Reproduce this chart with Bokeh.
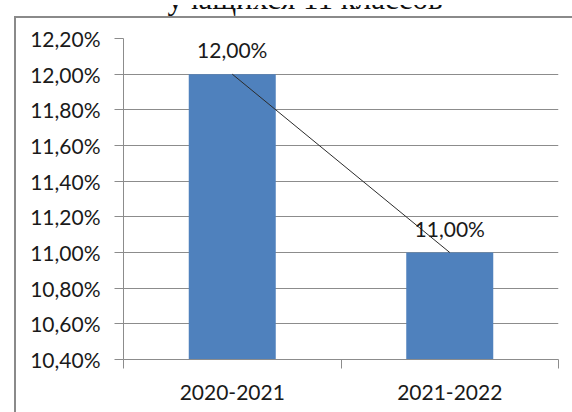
from bokeh.plotting import figure
from bokeh.models import (Range1d, LinearAxis, FixedTicker,
                          ColumnDataSource, LabelSet, Div)
from bokeh.layouts import column
from bokeh.embed import file_html
from bokeh.resources import INLINE
from bokeh.core.properties import value

# ---- data ----
categories = ["2020-2021", "2021-2022"]
values = [0.12, 0.11]
value_labels = ["12,00%", "11,00%"]
y_ticks = [0.104, 0.106, 0.108, 0.110, 0.112, 0.114, 0.116, 0.118, 0.120, 0.122]
y_tick_labels = ["10,40%", "10,60%", "10,80%", "11,00%", "11,20%", "11,40%",
                 "11,60%", "11,80%", "12,00%", "12,20%"]
title_text = "учащихся 11 классов"

FONT = "Lato"
TXT = "#1a1a1a"
GRID = "#8c8c8c"

n = len(categories)
centers = [i + 0.5 for i in range(n)]
bounds = list(range(n + 1))

W, H = 572, 412
p = figure(width=W, height=H, output_backend="svg", toolbar_location=None,
           x_range=Range1d(0, n),
           y_range=Range1d(y_ticks[0], y_ticks[-1]),
           x_axis_location=None, y_axis_location=None,
           min_border_left=123, min_border_right=14, min_border_top=38, min_border_bottom=53)
p.outline_line_color = None
p.background_fill_color = "white"
p.border_fill_color = "white"

src = ColumnDataSource(dict(x=centers, cat=categories, val=values, lab=value_labels))

p.vbar(x="x", top="val", bottom=y_ticks[0], width=0.4, source=src,
       fill_color="#4F81BD", line_color=None)
p.line(x="x", y="val", source=src, line_color="#2b2b2b", line_width=1)

# y axis
yax = LinearAxis(ticker=FixedTicker(ticks=y_ticks),
                 major_label_overrides={t: l for t, l in zip(y_ticks, y_tick_labels)})
yax.axis_line_color = GRID
yax.major_tick_line_color = GRID
yax.major_tick_out = 9
yax.major_tick_in = 0
yax.minor_tick_line_color = None
yax.major_label_standoff = 14
yax.major_label_text_font = FONT
yax.major_label_text_font_size = "21px"
yax.major_label_text_color = TXT
p.add_layout(yax, "left")

p.ygrid.ticker = FixedTicker(ticks=y_ticks)
p.ygrid.grid_line_color = GRID
p.xgrid.grid_line_color = None

# x axis: category labels at centers, tick marks at category boundaries
xax = LinearAxis(ticker=FixedTicker(ticks=centers, minor_ticks=bounds),
                 major_label_overrides={c: l for c, l in zip(centers, categories)})
xax.axis_line_color = GRID
xax.major_tick_line_color = None
xax.major_tick_out = 9
xax.major_tick_in = 0
xax.minor_tick_line_color = GRID
xax.minor_tick_out = 9
xax.minor_tick_in = 0
xax.major_label_standoff = 16
xax.major_label_text_font = FONT
xax.major_label_text_font_size = "21px"
xax.major_label_text_color = TXT
p.add_layout(xax, "below")

labels = LabelSet(x="x", y="val", text="lab", source=src, text_align="center",
                  text_baseline="alphabetic", y_offset=16,
                  text_font=value(FONT), text_font_size="21px", text_color=TXT)
p.add_layout(labels)

# overlay: chart-area border (left/top edges) and the truncated title above it
overlay_html = (
    '<div style="position:absolute;left:0;top:-22px;width:572px;box-sizing:border-box;'
    'padding-left:28px;text-align:center;'
    "font-family:'Liberation Serif';font-size:31px;line-height:31px;color:#111;"
    'white-space:nowrap;">' + title_text + '</div>'
    '<div style="position:absolute;left:9px;top:11px;width:561px;height:399px;'
    'border-left:2px solid #8a8a8a;border-top:2px solid #8a8a8a;"></div>'
)
overlay = Div(text=overlay_html, width=W, height=H,
              styles={"position": "absolute", "left": "0px", "top": "0px",
                      "overflow": "hidden", "pointer-events": "none", "z-index": "5"})

layout = column(p, overlay)
open("out.html", "w").write(file_html(layout, INLINE))
